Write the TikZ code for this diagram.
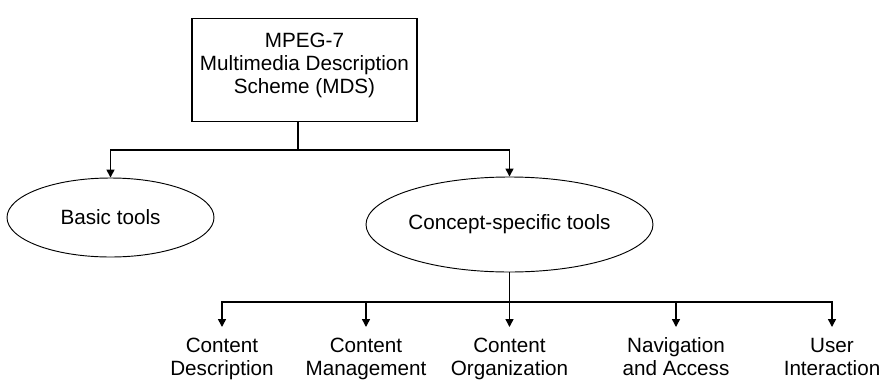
\documentclass[tikz,border=0pt]{standalone}
\usepackage{fontspec}
\setmainfont{Liberation Sans}
\usetikzlibrary{shapes.geometric,arrows.meta}

\begin{document}
\begin{tikzpicture}[x=0.75pt, y=-0.75pt,
    every node/.style={font=\fontsize{15.5}{17.3}\selectfont},
    scheme/.style={rectangle, draw, line width=0.8pt, minimum width=168.75pt, minimum height=77.25pt, align=center, inner sep=0pt, text depth=9.75pt},
    tool/.style={ellipse, draw, line width=0.7pt, inner sep=0pt},
    part/.style={align=center, anchor=north, inner xsep=0pt, inner ysep=8pt},
    conn/.style={line width=1.1pt},
    arr/.style={conn, -{Triangle[length=6pt, width=6pt]}}
  ]
  \useasboundingbox (0,0) rectangle (882,379);

  % Top scheme
  \node[scheme] (mds) at (304.5,70) {MPEG-7\\Multimedia Description\\Scheme (MDS)};

  % Tools
  \node[tool, minimum width=155.25pt, minimum height=59.25pt] (basic) at (110.5,217.5) {Basic tools};
  \node[tool, minimum width=215.25pt, minimum height=71.25pt] (concept) at (509.5,224.5) {Concept-specific tools};

  % Concept-specific parts
  \node[part] (cdesc) at (222,327) {Content\\Description};
  \node[part] (cman) at (366,327) {Content\\Management};
  \node[part] (corg) at (509.5,327) {Content\\Organization};
  \node[part] (nav) at (676,327) {Navigation\\and Access};
  \node[part] (user) at (832,327) {User\\Interaction};

  % Connectors
  \coordinate (split1) at (298,150);
  \coordinate (split2) at (509.5,302);
  \draw[conn] (mds.south -| split1) -- (split1);
  \draw[arr] (split1) -| (basic.north);
  \draw[arr] (split1) -| (concept.north);
  \draw[conn] (concept.south) -- (split2);
  \foreach \n in {cdesc,cman,corg,nav,user}
    \draw[arr] (split2) -| (\n.north);
\end{tikzpicture}
\end{document}
